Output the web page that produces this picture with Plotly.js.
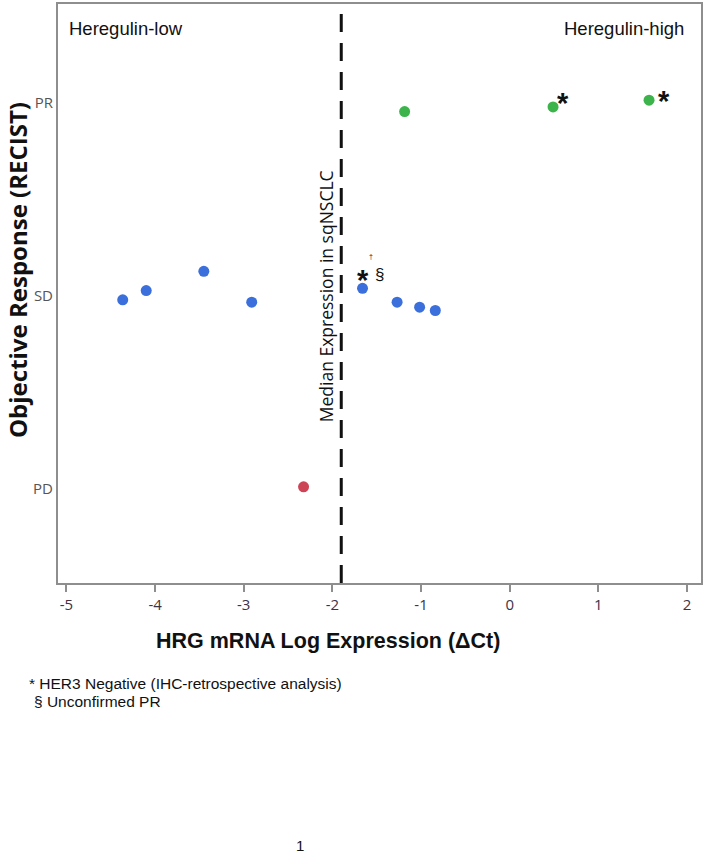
<!DOCTYPE html>
<html>
<head>
<meta charset="utf-8">
<script src="https://cdn.plot.ly/plotly-3.0.1.min.js"></script>
<style>
  html, body { margin: 0; padding: 0; background: #ffffff; }
  #chart { width: 703px; height: 854px; }
</style>
</head>
<body>
<div id="chart"></div>
<script>
// Response categories (numeric positions on y axis)
const responseTickVals = [0, 1, 2];
const responseTickText = ['PD', 'SD', 'PR'];

// Stable disease (SD) patients
const sdX = [-4.365, -4.10, -3.45, -2.91, -1.66, -1.27, -1.016, -0.839];
const sdY = [0.980, 1.028, 1.128, 0.968, 1.040, 0.968, 0.942, 0.925];

// Partial response (PR) patients
const prX = [-1.185, 0.489, 1.572];
const prY = [1.955, 1.979, 2.014];

// Progressive disease (PD) patients
const pdX = [-2.325];
const pdY = [0.012];

// Median HRG expression in sqNSCLC
const medianExpr = -1.9;

// X tick values
const xTicks = [-5, -4, -3, -2, -1, 0, 1, 2];

// Marker notes
const noteX = [0.602, 1.738, -1.655, -1.47];
const noteY = [2.036, 2.045, 1.118, 1.110];
const noteText = ['*', '*', '*', '§'];

const markerSize = 11;

const traces = [
  { x: sdX, y: sdY, type: 'scatter', mode: 'markers', name: 'SD',
    marker: { color: '#3b6fdb', size: markerSize } },
  { x: prX, y: prY, type: 'scatter', mode: 'markers', name: 'PR',
    marker: { color: '#3cb44b', size: markerSize } },
  { x: pdX, y: pdY, type: 'scatter', mode: 'markers', name: 'PD',
    marker: { color: '#cc4455', size: markerSize } }
];

const annotations = [];
for (let i = 0; i < noteText.length; i++) {
  const isStar = noteText[i] === '*';
  annotations.push({
    x: noteX[i], y: noteY[i], xref: 'x', yref: 'y',
    text: isStar ? '<b>*</b>' : noteText[i],
    showarrow: false, xanchor: 'center', yanchor: 'middle',
    yshift: isStar ? -7 : 0,
    font: { family: 'Liberation Sans, Arial, sans-serif', size: isStar ? 29 : 17, color: '#111' }
  });
}
// small dagger above the SD asterisk
annotations.push({
  x: -1.57, y: 1.205, xref: 'x', yref: 'y', text: '†', showarrow: false,
  font: { family: 'Liberation Sans, Arial, sans-serif', size: 7, color: '#222' }
});
// median label
annotations.push({
  x: medianExpr, y: 1.0, xref: 'x', yref: 'y', text: 'Median Expression in sqNSCLC',
  showarrow: false, textangle: -90, xshift: -15,
  font: { family: 'Open Sans, sans-serif', size: 17.5, color: '#111' }
});
// region labels
annotations.push({
  x: 0, y: 1, xref: 'paper', yref: 'paper', text: 'Heregulin-low', showarrow: false,
  xanchor: 'left', yanchor: 'middle', xshift: 9, yshift: -24,
  font: { family: 'Liberation Sans, Arial, sans-serif', size: 18.5, color: '#111' }
});
annotations.push({
  x: 1, y: 1, xref: 'paper', yref: 'paper', text: 'Heregulin-high', showarrow: false,
  xanchor: 'right', yanchor: 'middle', xshift: -15, yshift: -24,
  font: { family: 'Liberation Sans, Arial, sans-serif', size: 18.5, color: '#111' }
});
// axis titles
annotations.push({
  x: (328 - 58) / 643, y: -(641 - 583) / 579, xref: 'paper', yref: 'paper',
  text: '<b>HRG mRNA Log Expression (ΔCt)</b>', showarrow: false,
  xanchor: 'center', yanchor: 'middle',
  font: { family: 'Liberation Sans, Arial, sans-serif', size: 21.5, color: '#111' }
});
annotations.push({
  x: -(58 - 17) / 643, y: (583 - 270) / 579, xref: 'paper', yref: 'paper',
  text: '<b>Objective Response (RECIST)</b>', showarrow: false, textangle: -90,
  xanchor: 'center', yanchor: 'middle',
  font: { family: 'Open Sans, sans-serif', size: 24, color: '#111' }
});
// footnotes
annotations.push({
  x: (27 - 58) / 643, y: -(683 - 583) / 579, xref: 'paper', yref: 'paper',
  text: '* HER3 Negative (IHC-retrospective analysis)', showarrow: false,
  xanchor: 'left', yanchor: 'middle',
  font: { family: 'Liberation Sans, Arial, sans-serif', size: 15.5, color: '#111' }
});
annotations.push({
  x: (32 - 58) / 643, y: -(701 - 583) / 579, xref: 'paper', yref: 'paper',
  text: '§ Unconfirmed PR', showarrow: false,
  xanchor: 'left', yanchor: 'middle',
  font: { family: 'Liberation Sans, Arial, sans-serif', size: 15.5, color: '#111' }
});
annotations.push({
  x: (300 - 58) / 643, y: -(845 - 583) / 579, xref: 'paper', yref: 'paper',
  text: '1', showarrow: false, xanchor: 'center', yanchor: 'middle',
  font: { family: 'Liberation Sans, Arial, sans-serif', size: 15, color: '#111' }
});

const layout = {
  width: 703, height: 854,
  margin: { l: 58, r: 2, t: 4, b: 271 },
  paper_bgcolor: '#ffffff', plot_bgcolor: '#ffffff',
  showlegend: false,
  xaxis: {
    range: [-5.095, 2.158], tickvals: xTicks, ticktext: xTicks.map(String),
    showgrid: false, zeroline: false, showline: true, mirror: true,
    linecolor: '#8e8e8e', linewidth: 2,
    ticks: 'outside', ticklen: 7, tickcolor: '#8e8e8e', tickwidth: 2,
    tickfont: { family: 'Open Sans, sans-serif', size: 15, color: '#3e3346' }
  },
  yaxis: {
    range: [-0.486, 2.512], tickvals: responseTickVals, ticktext: responseTickText,
    showgrid: false, zeroline: false, showline: true, mirror: true,
    linecolor: '#8e8e8e', linewidth: 2, ticks: '',
    tickfont: { family: 'Open Sans, sans-serif', size: 15, color: '#555555' }
  },
  shapes: [{
    type: 'line', xref: 'x', yref: 'paper', x0: medianExpr, x1: medianExpr, y0: 0, y1: 1,
    line: { color: '#111111', width: 3, dash: '18px,11px' }
  }],
  annotations: annotations
};

Plotly.newPlot('chart', traces, layout, { displayModeBar: false, staticPlot: true });
</script>
</body>
</html>
